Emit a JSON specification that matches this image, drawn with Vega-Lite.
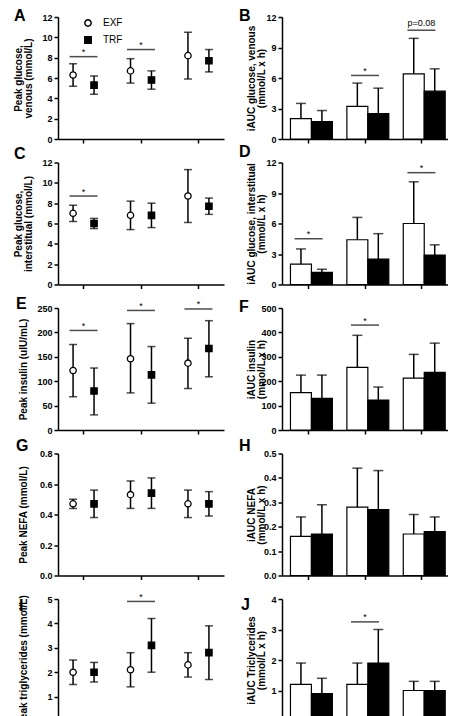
{
"$schema":"https://vega.github.io/schema/vega-lite/v6.json",
"padding":{"left":12,"top":8,"right":0,"bottom":0},
"datasets":{
"pts":[
{"p":"A","g":1,"s":"EXF","m":6.3,"lo":5.2,"hi":7.4},{"p":"A","g":1,"s":"TRF","m":5.3,"lo":4.4,"hi":6.2},
{"p":"A","g":2,"s":"EXF","m":6.7,"lo":5.5,"hi":7.9},{"p":"A","g":2,"s":"TRF","m":5.8,"lo":4.9,"hi":6.7},
{"p":"A","g":3,"s":"EXF","m":8.2,"lo":5.9,"hi":10.5},{"p":"A","g":3,"s":"TRF","m":7.7,"lo":6.6,"hi":8.8},
{"p":"C","g":1,"s":"EXF","m":7.0,"lo":6.2,"hi":7.8},{"p":"C","g":1,"s":"TRF","m":6.0,"lo":5.5,"hi":6.5},
{"p":"C","g":2,"s":"EXF","m":6.8,"lo":5.4,"hi":8.2},{"p":"C","g":2,"s":"TRF","m":6.8,"lo":5.6,"hi":8.0},
{"p":"C","g":3,"s":"EXF","m":8.7,"lo":6.1,"hi":11.3},{"p":"C","g":3,"s":"TRF","m":7.7,"lo":6.9,"hi":8.5},
{"p":"E","g":1,"s":"EXF","m":122,"lo":68,"hi":175},{"p":"E","g":1,"s":"TRF","m":80,"lo":31,"hi":127},
{"p":"E","g":2,"s":"EXF","m":146,"lo":76,"hi":218},{"p":"E","g":2,"s":"TRF","m":113,"lo":55,"hi":171},
{"p":"E","g":3,"s":"EXF","m":137,"lo":85,"hi":188},{"p":"E","g":3,"s":"TRF","m":167,"lo":109,"hi":224},
{"p":"G","g":1,"s":"EXF","m":0.47,"lo":0.44,"hi":0.50},{"p":"G","g":1,"s":"TRF","m":0.47,"lo":0.38,"hi":0.56},
{"p":"G","g":2,"s":"EXF","m":0.53,"lo":0.44,"hi":0.62},{"p":"G","g":2,"s":"TRF","m":0.54,"lo":0.44,"hi":0.64},
{"p":"G","g":3,"s":"EXF","m":0.47,"lo":0.38,"hi":0.56},{"p":"G","g":3,"s":"TRF","m":0.47,"lo":0.39,"hi":0.55},
{"p":"I","g":1,"s":"EXF","m":2.0,"lo":1.5,"hi":2.5},{"p":"I","g":1,"s":"TRF","m":2.0,"lo":1.6,"hi":2.4},
{"p":"I","g":2,"s":"EXF","m":2.1,"lo":1.4,"hi":2.8},{"p":"I","g":2,"s":"TRF","m":3.1,"lo":2.0,"hi":4.2},
{"p":"I","g":3,"s":"EXF","m":2.3,"lo":1.8,"hi":2.8},{"p":"I","g":3,"s":"TRF","m":2.8,"lo":1.7,"hi":3.9}
],
"bars":[
{"p":"B","g":1,"s":"EXF","m":2.0,"hi":3.5},{"p":"B","g":1,"s":"TRF","m":1.7,"hi":2.8},
{"p":"B","g":2,"s":"EXF","m":3.2,"hi":5.5},{"p":"B","g":2,"s":"TRF","m":2.5,"hi":5.0},
{"p":"B","g":3,"s":"EXF","m":6.4,"hi":9.9},{"p":"B","g":3,"s":"TRF","m":4.7,"hi":6.9},
{"p":"D","g":1,"s":"EXF","m":2.0,"hi":3.5},{"p":"D","g":1,"s":"TRF","m":1.2,"hi":1.5},
{"p":"D","g":2,"s":"EXF","m":4.4,"hi":6.6},{"p":"D","g":2,"s":"TRF","m":2.5,"hi":5.0},
{"p":"D","g":3,"s":"EXF","m":6.0,"hi":10.1},{"p":"D","g":3,"s":"TRF","m":2.9,"hi":3.9},
{"p":"F","g":1,"s":"EXF","m":153,"hi":225},{"p":"F","g":1,"s":"TRF","m":130,"hi":225},
{"p":"F","g":2,"s":"EXF","m":257,"hi":388},{"p":"F","g":2,"s":"TRF","m":123,"hi":176},
{"p":"F","g":3,"s":"EXF","m":213,"hi":310},{"p":"F","g":3,"s":"TRF","m":236,"hi":356},
{"p":"H","g":1,"s":"EXF","m":0.16,"hi":0.24},{"p":"H","g":1,"s":"TRF","m":0.17,"hi":0.29},
{"p":"H","g":2,"s":"EXF","m":0.28,"hi":0.44},{"p":"H","g":2,"s":"TRF","m":0.27,"hi":0.43},
{"p":"H","g":3,"s":"EXF","m":0.17,"hi":0.25},{"p":"H","g":3,"s":"TRF","m":0.18,"hi":0.24},
{"p":"J","g":1,"s":"EXF","m":1.2,"hi":1.9},{"p":"J","g":1,"s":"TRF","m":0.9,"hi":1.4},
{"p":"J","g":2,"s":"EXF","m":1.2,"hi":1.9},{"p":"J","g":2,"s":"TRF","m":1.9,"hi":3.0},
{"p":"J","g":3,"s":"EXF","m":1.0,"hi":1.3},{"p":"J","g":3,"s":"TRF","m":1.0,"hi":1.3}
],
"sig":[
{"p":"A","g":1,"y":8.1,"t":"*"},{"p":"A","g":2,"y":8.8,"t":"*"},
{"p":"B","g":2,"y":6.25,"t":"*"},{"p":"B","g":3,"y":10.7,"t":"p=0.08"},
{"p":"C","g":1,"y":8.7,"t":"*"},
{"p":"D","g":1,"y":4.5,"t":"*"},{"p":"D","g":3,"y":11.0,"t":"*"},
{"p":"E","g":1,"y":204,"t":"*"},{"p":"E","g":2,"y":245,"t":"*"},{"p":"E","g":3,"y":248,"t":"*"},
{"p":"F","g":2,"y":430,"t":"*"},
{"p":"I","g":2,"y":4.9,"t":"*"},
{"p":"J","g":2,"y":3.25,"t":"*"}
]
},
"columns":2,
"spacing":{"row":23.5,"column":58},
"bounds":"flush",
"resolve":{"scale":{"x":"independent","y":"independent","fill":"independent","shape":"independent"},"legend":{"fill":"independent","shape":"independent"}},
"concat":[
{"width":166,"height":122,"title":{"text":"A","dx":-44,"dy":15},"resolve":{"axis":{"y":"independent"}},
"layer":[
{"data":{"name":"pts"},"transform":[{"filter":"datum.p==='A'"}],"mark":{"type":"rule","color":"black","strokeWidth":1.5},
"encoding":{"x":{"field":"g","type":"ordinal","scale":{"paddingInner":0.27,"paddingOuter":0.08},"axis":{"labels":false,"title":null}},"xOffset":{"field":"s","type":"nominal","scale":{"domain":["EXF","TRF"],"paddingInner":0,"paddingOuter":0}},
"y":{"field":"lo","type":"quantitative","scale":{"domain":[0,12],"nice":false},"axis":{"values":[0,2,4,6,8,10,12],"title":["Peak glucose,","venous (mmol/L)"],"titleX":-40,"titleY":61}},"y2":{"field":"hi"}}},
{"data":{"name":"pts"},"transform":[{"filter":"datum.p==='A'"}],"mark":{"type":"tick","color":"black","thickness":1.5,"size":8},
"encoding":{"x":{"field":"g","type":"ordinal","scale":{"paddingInner":0.27,"paddingOuter":0.08},"axis":{"labels":false,"title":null}},"xOffset":{"field":"s","type":"nominal","scale":{"domain":["EXF","TRF"],"paddingInner":0,"paddingOuter":0}},
"y":{"field":"lo","type":"quantitative","scale":{"domain":[0,12],"nice":false},"axis":null}}},
{"data":{"name":"pts"},"transform":[{"filter":"datum.p==='A'"}],"mark":{"type":"tick","color":"black","thickness":1.5,"size":8},
"encoding":{"x":{"field":"g","type":"ordinal","scale":{"paddingInner":0.27,"paddingOuter":0.08},"axis":{"labels":false,"title":null}},"xOffset":{"field":"s","type":"nominal","scale":{"domain":["EXF","TRF"],"paddingInner":0,"paddingOuter":0}},
"y":{"field":"hi","type":"quantitative","scale":{"domain":[0,12],"nice":false},"axis":null}}},
{"data":{"name":"pts"},"transform":[{"filter":"datum.p==='A'"}],"mark":{"type":"point","filled":true,"strokeWidth":1.3,"size":40,"opacity":1},
"encoding":{"x":{"field":"g","type":"ordinal","scale":{"paddingInner":0.27,"paddingOuter":0.08},"axis":{"labels":false,"title":null}},"xOffset":{"field":"s","type":"nominal","scale":{"domain":["EXF","TRF"],"paddingInner":0,"paddingOuter":0}},
"y":{"field":"m","type":"quantitative","scale":{"domain":[0,12],"nice":false},"axis":null},"stroke":{"value":"black"},
"shape":{"field":"s","type":"nominal","scale":{"domain":["EXF","TRF"],"range":["circle","square"]},"legend":{"title":null,"orient":"none","legendX":25,"legendY":1,"direction":"vertical","labelFontSize":10,"labelFontWeight":"normal","labelColor":"black","labelFont":"Liberation Sans","symbolSize":40,"labelOffset":10,"rowPadding":3,"padding":0,"encode":{"symbols":{"update":{"fill":{"signal":"datum.value === 'TRF' ? 'black' : 'white'"},"stroke":{"signal":"'black'"},"strokeWidth":{"signal":"1.3"}}}}}},
"fill":{"field":"s","type":"nominal","scale":{"domain":["EXF","TRF"],"range":["white","black"]},"legend":null}}},
{"data":{"name":"sig"},"transform":[{"filter":"datum.p==='A'"}],"mark":{"type":"tick","color":"black","thickness":1.5,"size":28},
"encoding":{"x":{"field":"g","type":"ordinal","scale":{"paddingInner":0.27,"paddingOuter":0.08},"axis":{"labels":false,"title":null}},"y":{"field":"y","type":"quantitative","scale":{"domain":[0,12],"nice":false},"axis":null}}},
{"data":{"name":"sig"},"transform":[{"filter":"datum.p==='A'"}],"mark":{"type":"text","fontSize":9,"dy":-1.5,"baseline":"alphabetic","color":"black"},
"encoding":{"x":{"field":"g","type":"ordinal","scale":{"paddingInner":0.27,"paddingOuter":0.08},"axis":{"labels":false,"title":null}},"y":{"field":"y","type":"quantitative","scale":{"domain":[0,12],"nice":false},"axis":null},"text":{"field":"t"}}}
]},
{"width":166,"height":122,"title":{"text":"B","dx":-43,"dy":15},"resolve":{"axis":{"y":"independent"}},
"layer":[
{"data":{"name":"bars"},"transform":[{"filter":"datum.p==='B'"}],"mark":{"type":"bar","stroke":"black","strokeWidth":1.2},
"encoding":{"x":{"field":"g","type":"ordinal","scale":{"paddingInner":0.357,"paddingOuter":0.15},"axis":{"labels":false,"title":null}},"xOffset":{"field":"s","type":"nominal","scale":{"domain":["EXF","TRF"],"paddingInner":0,"paddingOuter":0}},
"y":{"field":"m","type":"quantitative","scale":{"domain":[0,12],"nice":false},"axis":{"values":[0,3,6,9,12],"title":["iAUC glucose, venous","(mmol/L x h)"],"titleX":-31,"titleY":61}},
"fill":{"field":"s","type":"nominal","scale":{"domain":["EXF","TRF"],"range":["white","black"]},"legend":null}}},
{"data":{"name":"bars"},"transform":[{"filter":"datum.p==='B'"}],"mark":{"type":"rule","color":"black","strokeWidth":1.5},
"encoding":{"x":{"field":"g","type":"ordinal","scale":{"paddingInner":0.357,"paddingOuter":0.15},"axis":{"labels":false,"title":null}},"xOffset":{"field":"s","type":"nominal","scale":{"domain":["EXF","TRF"],"paddingInner":0,"paddingOuter":0}},
"y":{"field":"m","type":"quantitative","scale":{"domain":[0,12],"nice":false},"axis":null},"y2":{"field":"hi"}}},
{"data":{"name":"bars"},"transform":[{"filter":"datum.p==='B'"}],"mark":{"type":"tick","color":"black","thickness":1.5,"size":10},
"encoding":{"x":{"field":"g","type":"ordinal","scale":{"paddingInner":0.357,"paddingOuter":0.15},"axis":{"labels":false,"title":null}},"xOffset":{"field":"s","type":"nominal","scale":{"domain":["EXF","TRF"],"paddingInner":0,"paddingOuter":0}},
"y":{"field":"hi","type":"quantitative","scale":{"domain":[0,12],"nice":false},"axis":null}}},
{"data":{"name":"sig"},"transform":[{"filter":"datum.p==='B'"}],"mark":{"type":"tick","color":"black","thickness":1.5,"size":28},
"encoding":{"x":{"field":"g","type":"ordinal","scale":{"paddingInner":0.357,"paddingOuter":0.15},"axis":{"labels":false,"title":null}},"y":{"field":"y","type":"quantitative","scale":{"domain":[0,12],"nice":false},"axis":null}}},
{"data":{"name":"sig"},"transform":[{"filter":"datum.p==='B' && datum.t==='*'"}],"mark":{"type":"text","fontSize":9,"dy":-1.5,"baseline":"alphabetic","color":"black"},
"encoding":{"x":{"field":"g","type":"ordinal","scale":{"paddingInner":0.357,"paddingOuter":0.15},"axis":{"labels":false,"title":null}},"y":{"field":"y","type":"quantitative","scale":{"domain":[0,12],"nice":false},"axis":null},"text":{"field":"t"}}},
{"data":{"name":"sig"},"transform":[{"filter":"datum.p==='B' && datum.t!=='*'"}],"mark":{"type":"text","fontSize":9,"dy":-4,"baseline":"alphabetic","color":"black"},
"encoding":{"x":{"field":"g","type":"ordinal","scale":{"paddingInner":0.357,"paddingOuter":0.15},"axis":{"labels":false,"title":null}},"y":{"field":"y","type":"quantitative","scale":{"domain":[0,12],"nice":false},"axis":null},"text":{"field":"t"}}}
]},
{"width":166,"height":122,"title":{"text":"C","dx":-44,"dy":7.5},"resolve":{"axis":{"y":"independent"}},
"layer":[
{"data":{"name":"pts"},"transform":[{"filter":"datum.p==='C'"}],"mark":{"type":"rule","color":"black","strokeWidth":1.5},
"encoding":{"x":{"field":"g","type":"ordinal","scale":{"paddingInner":0.27,"paddingOuter":0.08},"axis":{"labels":false,"title":null}},"xOffset":{"field":"s","type":"nominal","scale":{"domain":["EXF","TRF"],"paddingInner":0,"paddingOuter":0}},
"y":{"field":"lo","type":"quantitative","scale":{"domain":[0,12],"nice":false},"axis":{"values":[0,2,4,6,8,10,12],"title":["Peak glucose,","interstitual (mmol/L)"],"titleX":-40,"titleY":61}},"y2":{"field":"hi"}}},
{"data":{"name":"pts"},"transform":[{"filter":"datum.p==='C'"}],"mark":{"type":"tick","color":"black","thickness":1.5,"size":8},
"encoding":{"x":{"field":"g","type":"ordinal","scale":{"paddingInner":0.27,"paddingOuter":0.08},"axis":{"labels":false,"title":null}},"xOffset":{"field":"s","type":"nominal","scale":{"domain":["EXF","TRF"],"paddingInner":0,"paddingOuter":0}},
"y":{"field":"lo","type":"quantitative","scale":{"domain":[0,12],"nice":false},"axis":null}}},
{"data":{"name":"pts"},"transform":[{"filter":"datum.p==='C'"}],"mark":{"type":"tick","color":"black","thickness":1.5,"size":8},
"encoding":{"x":{"field":"g","type":"ordinal","scale":{"paddingInner":0.27,"paddingOuter":0.08},"axis":{"labels":false,"title":null}},"xOffset":{"field":"s","type":"nominal","scale":{"domain":["EXF","TRF"],"paddingInner":0,"paddingOuter":0}},
"y":{"field":"hi","type":"quantitative","scale":{"domain":[0,12],"nice":false},"axis":null}}},
{"data":{"name":"pts"},"transform":[{"filter":"datum.p==='C'"}],"mark":{"type":"point","filled":true,"strokeWidth":1.3,"size":40,"opacity":1},
"encoding":{"x":{"field":"g","type":"ordinal","scale":{"paddingInner":0.27,"paddingOuter":0.08},"axis":{"labels":false,"title":null}},"xOffset":{"field":"s","type":"nominal","scale":{"domain":["EXF","TRF"],"paddingInner":0,"paddingOuter":0}},
"y":{"field":"m","type":"quantitative","scale":{"domain":[0,12],"nice":false},"axis":null},"stroke":{"value":"black"},
"shape":{"field":"s","type":"nominal","scale":{"domain":["EXF","TRF"],"range":["circle","square"]},"legend":null},
"fill":{"field":"s","type":"nominal","scale":{"domain":["EXF","TRF"],"range":["white","black"]},"legend":null}}},
{"data":{"name":"sig"},"transform":[{"filter":"datum.p==='C'"}],"mark":{"type":"tick","color":"black","thickness":1.5,"size":28},
"encoding":{"x":{"field":"g","type":"ordinal","scale":{"paddingInner":0.27,"paddingOuter":0.08},"axis":{"labels":false,"title":null}},"y":{"field":"y","type":"quantitative","scale":{"domain":[0,12],"nice":false},"axis":null}}},
{"data":{"name":"sig"},"transform":[{"filter":"datum.p==='C'"}],"mark":{"type":"text","fontSize":9,"dy":-1.5,"baseline":"alphabetic","color":"black"},
"encoding":{"x":{"field":"g","type":"ordinal","scale":{"paddingInner":0.27,"paddingOuter":0.08},"axis":{"labels":false,"title":null}},"y":{"field":"y","type":"quantitative","scale":{"domain":[0,12],"nice":false},"axis":null},"text":{"field":"t"}}}
]},
{"width":166,"height":122,"title":{"text":"D","dx":-43,"dy":5.5},"resolve":{"axis":{"y":"independent"}},
"layer":[
{"data":{"name":"bars"},"transform":[{"filter":"datum.p==='D'"}],"mark":{"type":"bar","stroke":"black","strokeWidth":1.2},
"encoding":{"x":{"field":"g","type":"ordinal","scale":{"paddingInner":0.357,"paddingOuter":0.15},"axis":{"labels":false,"title":null}},"xOffset":{"field":"s","type":"nominal","scale":{"domain":["EXF","TRF"],"paddingInner":0,"paddingOuter":0}},
"y":{"field":"m","type":"quantitative","scale":{"domain":[0,12],"nice":false},"axis":{"values":[0,3,6,9,12],"title":["iAUC glucose, interstitual","(mmol/L x h)"],"titleX":-31,"titleY":61}},
"fill":{"field":"s","type":"nominal","scale":{"domain":["EXF","TRF"],"range":["white","black"]},"legend":null}}},
{"data":{"name":"bars"},"transform":[{"filter":"datum.p==='D'"}],"mark":{"type":"rule","color":"black","strokeWidth":1.5},
"encoding":{"x":{"field":"g","type":"ordinal","scale":{"paddingInner":0.357,"paddingOuter":0.15},"axis":{"labels":false,"title":null}},"xOffset":{"field":"s","type":"nominal","scale":{"domain":["EXF","TRF"],"paddingInner":0,"paddingOuter":0}},
"y":{"field":"m","type":"quantitative","scale":{"domain":[0,12],"nice":false},"axis":null},"y2":{"field":"hi"}}},
{"data":{"name":"bars"},"transform":[{"filter":"datum.p==='D'"}],"mark":{"type":"tick","color":"black","thickness":1.5,"size":10},
"encoding":{"x":{"field":"g","type":"ordinal","scale":{"paddingInner":0.357,"paddingOuter":0.15},"axis":{"labels":false,"title":null}},"xOffset":{"field":"s","type":"nominal","scale":{"domain":["EXF","TRF"],"paddingInner":0,"paddingOuter":0}},
"y":{"field":"hi","type":"quantitative","scale":{"domain":[0,12],"nice":false},"axis":null}}},
{"data":{"name":"sig"},"transform":[{"filter":"datum.p==='D'"}],"mark":{"type":"tick","color":"black","thickness":1.5,"size":28},
"encoding":{"x":{"field":"g","type":"ordinal","scale":{"paddingInner":0.357,"paddingOuter":0.15},"axis":{"labels":false,"title":null}},"y":{"field":"y","type":"quantitative","scale":{"domain":[0,12],"nice":false},"axis":null}}},
{"data":{"name":"sig"},"transform":[{"filter":"datum.p==='D'"}],"mark":{"type":"text","fontSize":9,"dy":-1.5,"baseline":"alphabetic","color":"black"},
"encoding":{"x":{"field":"g","type":"ordinal","scale":{"paddingInner":0.357,"paddingOuter":0.15},"axis":{"labels":false,"title":null}},"y":{"field":"y","type":"quantitative","scale":{"domain":[0,12],"nice":false},"axis":null},"text":{"field":"t"}}}
]},
{"width":166,"height":122,"title":{"text":"E","dx":-42,"dy":16},"resolve":{"axis":{"y":"independent"}},
"layer":[
{"data":{"name":"pts"},"transform":[{"filter":"datum.p==='E'"}],"mark":{"type":"rule","color":"black","strokeWidth":1.5},
"encoding":{"x":{"field":"g","type":"ordinal","scale":{"paddingInner":0.27,"paddingOuter":0.08},"axis":{"labels":false,"title":null}},"xOffset":{"field":"s","type":"nominal","scale":{"domain":["EXF","TRF"],"paddingInner":0,"paddingOuter":0}},
"y":{"field":"lo","type":"quantitative","scale":{"domain":[0,250],"nice":false},"axis":{"values":[0,50,100,150,200,250],"title":"Peak insulin (uIU/mL)","titleX":-34.5,"titleY":61}},"y2":{"field":"hi"}}},
{"data":{"name":"pts"},"transform":[{"filter":"datum.p==='E'"}],"mark":{"type":"tick","color":"black","thickness":1.5,"size":8},
"encoding":{"x":{"field":"g","type":"ordinal","scale":{"paddingInner":0.27,"paddingOuter":0.08},"axis":{"labels":false,"title":null}},"xOffset":{"field":"s","type":"nominal","scale":{"domain":["EXF","TRF"],"paddingInner":0,"paddingOuter":0}},
"y":{"field":"lo","type":"quantitative","scale":{"domain":[0,250],"nice":false},"axis":null}}},
{"data":{"name":"pts"},"transform":[{"filter":"datum.p==='E'"}],"mark":{"type":"tick","color":"black","thickness":1.5,"size":8},
"encoding":{"x":{"field":"g","type":"ordinal","scale":{"paddingInner":0.27,"paddingOuter":0.08},"axis":{"labels":false,"title":null}},"xOffset":{"field":"s","type":"nominal","scale":{"domain":["EXF","TRF"],"paddingInner":0,"paddingOuter":0}},
"y":{"field":"hi","type":"quantitative","scale":{"domain":[0,250],"nice":false},"axis":null}}},
{"data":{"name":"pts"},"transform":[{"filter":"datum.p==='E'"}],"mark":{"type":"point","filled":true,"strokeWidth":1.3,"size":40,"opacity":1},
"encoding":{"x":{"field":"g","type":"ordinal","scale":{"paddingInner":0.27,"paddingOuter":0.08},"axis":{"labels":false,"title":null}},"xOffset":{"field":"s","type":"nominal","scale":{"domain":["EXF","TRF"],"paddingInner":0,"paddingOuter":0}},
"y":{"field":"m","type":"quantitative","scale":{"domain":[0,250],"nice":false},"axis":null},"stroke":{"value":"black"},
"shape":{"field":"s","type":"nominal","scale":{"domain":["EXF","TRF"],"range":["circle","square"]},"legend":null},
"fill":{"field":"s","type":"nominal","scale":{"domain":["EXF","TRF"],"range":["white","black"]},"legend":null}}},
{"data":{"name":"sig"},"transform":[{"filter":"datum.p==='E'"}],"mark":{"type":"tick","color":"black","thickness":1.5,"size":28},
"encoding":{"x":{"field":"g","type":"ordinal","scale":{"paddingInner":0.27,"paddingOuter":0.08},"axis":{"labels":false,"title":null}},"y":{"field":"y","type":"quantitative","scale":{"domain":[0,250],"nice":false},"axis":null}}},
{"data":{"name":"sig"},"transform":[{"filter":"datum.p==='E'"}],"mark":{"type":"text","fontSize":9,"dy":-1.5,"baseline":"alphabetic","color":"black"},
"encoding":{"x":{"field":"g","type":"ordinal","scale":{"paddingInner":0.27,"paddingOuter":0.08},"axis":{"labels":false,"title":null}},"y":{"field":"y","type":"quantitative","scale":{"domain":[0,250],"nice":false},"axis":null},"text":{"field":"t"}}}
]},
{"width":166,"height":122,"title":{"text":"F","dx":-43,"dy":15},"resolve":{"axis":{"y":"independent"}},
"layer":[
{"data":{"name":"bars"},"transform":[{"filter":"datum.p==='F'"}],"mark":{"type":"bar","stroke":"black","strokeWidth":1.2},
"encoding":{"x":{"field":"g","type":"ordinal","scale":{"paddingInner":0.357,"paddingOuter":0.15},"axis":{"labels":false,"title":null}},"xOffset":{"field":"s","type":"nominal","scale":{"domain":["EXF","TRF"],"paddingInner":0,"paddingOuter":0}},
"y":{"field":"m","type":"quantitative","scale":{"domain":[0,500],"nice":false},"axis":{"values":[0,100,200,300,400,500],"title":["iAUC insulin","(mmol/L x h)"],"titleX":-31,"titleY":61}},
"fill":{"field":"s","type":"nominal","scale":{"domain":["EXF","TRF"],"range":["white","black"]},"legend":null}}},
{"data":{"name":"bars"},"transform":[{"filter":"datum.p==='F'"}],"mark":{"type":"rule","color":"black","strokeWidth":1.5},
"encoding":{"x":{"field":"g","type":"ordinal","scale":{"paddingInner":0.357,"paddingOuter":0.15},"axis":{"labels":false,"title":null}},"xOffset":{"field":"s","type":"nominal","scale":{"domain":["EXF","TRF"],"paddingInner":0,"paddingOuter":0}},
"y":{"field":"m","type":"quantitative","scale":{"domain":[0,500],"nice":false},"axis":null},"y2":{"field":"hi"}}},
{"data":{"name":"bars"},"transform":[{"filter":"datum.p==='F'"}],"mark":{"type":"tick","color":"black","thickness":1.5,"size":10},
"encoding":{"x":{"field":"g","type":"ordinal","scale":{"paddingInner":0.357,"paddingOuter":0.15},"axis":{"labels":false,"title":null}},"xOffset":{"field":"s","type":"nominal","scale":{"domain":["EXF","TRF"],"paddingInner":0,"paddingOuter":0}},
"y":{"field":"hi","type":"quantitative","scale":{"domain":[0,500],"nice":false},"axis":null}}},
{"data":{"name":"sig"},"transform":[{"filter":"datum.p==='F'"}],"mark":{"type":"tick","color":"black","thickness":1.5,"size":28},
"encoding":{"x":{"field":"g","type":"ordinal","scale":{"paddingInner":0.357,"paddingOuter":0.15},"axis":{"labels":false,"title":null}},"y":{"field":"y","type":"quantitative","scale":{"domain":[0,500],"nice":false},"axis":null}}},
{"data":{"name":"sig"},"transform":[{"filter":"datum.p==='F'"}],"mark":{"type":"text","fontSize":9,"dy":-1.5,"baseline":"alphabetic","color":"black"},
"encoding":{"x":{"field":"g","type":"ordinal","scale":{"paddingInner":0.357,"paddingOuter":0.15},"axis":{"labels":false,"title":null}},"y":{"field":"y","type":"quantitative","scale":{"domain":[0,500],"nice":false},"axis":null},"text":{"field":"t"}}}
]},
{"width":166,"height":122,"title":{"text":"G","dx":-42,"dy":8.5},"resolve":{"axis":{"y":"independent"}},
"layer":[
{"data":{"name":"pts"},"transform":[{"filter":"datum.p==='G'"}],"mark":{"type":"rule","color":"black","strokeWidth":1.5},
"encoding":{"x":{"field":"g","type":"ordinal","scale":{"paddingInner":0.27,"paddingOuter":0.08},"axis":{"labels":false,"title":null}},"xOffset":{"field":"s","type":"nominal","scale":{"domain":["EXF","TRF"],"paddingInner":0,"paddingOuter":0}},
"y":{"field":"lo","type":"quantitative","scale":{"domain":[0,0.8],"nice":false},"axis":{"values":[0,0.2,0.4,0.6,0.8],"format":".1f","title":"Peak NEFA (mmol/L)","titleX":-34.5,"titleY":61}},"y2":{"field":"hi"}}},
{"data":{"name":"pts"},"transform":[{"filter":"datum.p==='G'"}],"mark":{"type":"tick","color":"black","thickness":1.5,"size":8},
"encoding":{"x":{"field":"g","type":"ordinal","scale":{"paddingInner":0.27,"paddingOuter":0.08},"axis":{"labels":false,"title":null}},"xOffset":{"field":"s","type":"nominal","scale":{"domain":["EXF","TRF"],"paddingInner":0,"paddingOuter":0}},
"y":{"field":"lo","type":"quantitative","scale":{"domain":[0,0.8],"nice":false},"axis":null}}},
{"data":{"name":"pts"},"transform":[{"filter":"datum.p==='G'"}],"mark":{"type":"tick","color":"black","thickness":1.5,"size":8},
"encoding":{"x":{"field":"g","type":"ordinal","scale":{"paddingInner":0.27,"paddingOuter":0.08},"axis":{"labels":false,"title":null}},"xOffset":{"field":"s","type":"nominal","scale":{"domain":["EXF","TRF"],"paddingInner":0,"paddingOuter":0}},
"y":{"field":"hi","type":"quantitative","scale":{"domain":[0,0.8],"nice":false},"axis":null}}},
{"data":{"name":"pts"},"transform":[{"filter":"datum.p==='G'"}],"mark":{"type":"point","filled":true,"strokeWidth":1.3,"size":40,"opacity":1},
"encoding":{"x":{"field":"g","type":"ordinal","scale":{"paddingInner":0.27,"paddingOuter":0.08},"axis":{"labels":false,"title":null}},"xOffset":{"field":"s","type":"nominal","scale":{"domain":["EXF","TRF"],"paddingInner":0,"paddingOuter":0}},
"y":{"field":"m","type":"quantitative","scale":{"domain":[0,0.8],"nice":false},"axis":null},"stroke":{"value":"black"},
"shape":{"field":"s","type":"nominal","scale":{"domain":["EXF","TRF"],"range":["circle","square"]},"legend":null},
"fill":{"field":"s","type":"nominal","scale":{"domain":["EXF","TRF"],"range":["white","black"]},"legend":null}}}
]},
{"width":166,"height":122,"title":{"text":"H","dx":-43,"dy":8.5},"resolve":{"axis":{"y":"independent"}},
"layer":[
{"data":{"name":"bars"},"transform":[{"filter":"datum.p==='H'"}],"mark":{"type":"bar","stroke":"black","strokeWidth":1.2},
"encoding":{"x":{"field":"g","type":"ordinal","scale":{"paddingInner":0.357,"paddingOuter":0.15},"axis":{"labels":false,"title":null}},"xOffset":{"field":"s","type":"nominal","scale":{"domain":["EXF","TRF"],"paddingInner":0,"paddingOuter":0}},
"y":{"field":"m","type":"quantitative","scale":{"domain":[0,0.5],"nice":false},"axis":{"values":[0,0.1,0.2,0.3,0.4,0.5],"format":".1f","title":["iAUC NEFA","(mmol/L x h)"],"titleX":-31,"titleY":61}},
"fill":{"field":"s","type":"nominal","scale":{"domain":["EXF","TRF"],"range":["white","black"]},"legend":null}}},
{"data":{"name":"bars"},"transform":[{"filter":"datum.p==='H'"}],"mark":{"type":"rule","color":"black","strokeWidth":1.5},
"encoding":{"x":{"field":"g","type":"ordinal","scale":{"paddingInner":0.357,"paddingOuter":0.15},"axis":{"labels":false,"title":null}},"xOffset":{"field":"s","type":"nominal","scale":{"domain":["EXF","TRF"],"paddingInner":0,"paddingOuter":0}},
"y":{"field":"m","type":"quantitative","scale":{"domain":[0,0.5],"nice":false},"axis":null},"y2":{"field":"hi"}}},
{"data":{"name":"bars"},"transform":[{"filter":"datum.p==='H'"}],"mark":{"type":"tick","color":"black","thickness":1.5,"size":10},
"encoding":{"x":{"field":"g","type":"ordinal","scale":{"paddingInner":0.357,"paddingOuter":0.15},"axis":{"labels":false,"title":null}},"xOffset":{"field":"s","type":"nominal","scale":{"domain":["EXF","TRF"],"paddingInner":0,"paddingOuter":0}},
"y":{"field":"hi","type":"quantitative","scale":{"domain":[0,0.5],"nice":false},"axis":null}}}
]},
{"width":166,"height":122,"title":{"text":"I","dx":-39,"dy":25},"resolve":{"axis":{"y":"independent"}},
"layer":[
{"data":{"name":"pts"},"transform":[{"filter":"datum.p==='I'"}],"mark":{"type":"rule","color":"black","strokeWidth":1.5},
"encoding":{"x":{"field":"g","type":"ordinal","scale":{"paddingInner":0.27,"paddingOuter":0.08},"axis":{"labels":false,"title":null}},"xOffset":{"field":"s","type":"nominal","scale":{"domain":["EXF","TRF"],"paddingInner":0,"paddingOuter":0}},
"y":{"field":"lo","type":"quantitative","scale":{"domain":[0,5],"nice":false},"axis":{"values":[0,1,2,3,4,5],"title":"Peak triglycerides (mmol/L)","titleX":-34.5,"titleY":61}},"y2":{"field":"hi"}}},
{"data":{"name":"pts"},"transform":[{"filter":"datum.p==='I'"}],"mark":{"type":"tick","color":"black","thickness":1.5,"size":8},
"encoding":{"x":{"field":"g","type":"ordinal","scale":{"paddingInner":0.27,"paddingOuter":0.08},"axis":{"labels":false,"title":null}},"xOffset":{"field":"s","type":"nominal","scale":{"domain":["EXF","TRF"],"paddingInner":0,"paddingOuter":0}},
"y":{"field":"lo","type":"quantitative","scale":{"domain":[0,5],"nice":false},"axis":null}}},
{"data":{"name":"pts"},"transform":[{"filter":"datum.p==='I'"}],"mark":{"type":"tick","color":"black","thickness":1.5,"size":8},
"encoding":{"x":{"field":"g","type":"ordinal","scale":{"paddingInner":0.27,"paddingOuter":0.08},"axis":{"labels":false,"title":null}},"xOffset":{"field":"s","type":"nominal","scale":{"domain":["EXF","TRF"],"paddingInner":0,"paddingOuter":0}},
"y":{"field":"hi","type":"quantitative","scale":{"domain":[0,5],"nice":false},"axis":null}}},
{"data":{"name":"pts"},"transform":[{"filter":"datum.p==='I'"}],"mark":{"type":"point","filled":true,"strokeWidth":1.3,"size":40,"opacity":1},
"encoding":{"x":{"field":"g","type":"ordinal","scale":{"paddingInner":0.27,"paddingOuter":0.08},"axis":{"labels":false,"title":null}},"xOffset":{"field":"s","type":"nominal","scale":{"domain":["EXF","TRF"],"paddingInner":0,"paddingOuter":0}},
"y":{"field":"m","type":"quantitative","scale":{"domain":[0,5],"nice":false},"axis":null},"stroke":{"value":"black"},
"shape":{"field":"s","type":"nominal","scale":{"domain":["EXF","TRF"],"range":["circle","square"]},"legend":null},
"fill":{"field":"s","type":"nominal","scale":{"domain":["EXF","TRF"],"range":["white","black"]},"legend":null}}},
{"data":{"name":"sig"},"transform":[{"filter":"datum.p==='I'"}],"mark":{"type":"tick","color":"black","thickness":1.5,"size":28},
"encoding":{"x":{"field":"g","type":"ordinal","scale":{"paddingInner":0.27,"paddingOuter":0.08},"axis":{"labels":false,"title":null}},"y":{"field":"y","type":"quantitative","scale":{"domain":[0,5],"nice":false},"axis":null}}},
{"data":{"name":"sig"},"transform":[{"filter":"datum.p==='I'"}],"mark":{"type":"text","fontSize":9,"dy":-1.5,"baseline":"alphabetic","color":"black"},
"encoding":{"x":{"field":"g","type":"ordinal","scale":{"paddingInner":0.27,"paddingOuter":0.08},"axis":{"labels":false,"title":null}},"y":{"field":"y","type":"quantitative","scale":{"domain":[0,5],"nice":false},"axis":null},"text":{"field":"t"}}}
]},
{"width":166,"height":122,"title":{"text":"J","dx":-41,"dy":22},"resolve":{"axis":{"y":"independent"}},
"layer":[
{"data":{"name":"bars"},"transform":[{"filter":"datum.p==='J'"}],"mark":{"type":"bar","stroke":"black","strokeWidth":1.2},
"encoding":{"x":{"field":"g","type":"ordinal","scale":{"paddingInner":0.357,"paddingOuter":0.15},"axis":{"labels":false,"title":null}},"xOffset":{"field":"s","type":"nominal","scale":{"domain":["EXF","TRF"],"paddingInner":0,"paddingOuter":0}},
"y":{"field":"m","type":"quantitative","scale":{"domain":[0,4],"nice":false},"axis":{"values":[0,1,2,3,4],"title":["iAUC Triclycerides","(mmol/L x h)"],"titleX":-31,"titleY":61}},
"fill":{"field":"s","type":"nominal","scale":{"domain":["EXF","TRF"],"range":["white","black"]},"legend":null}}},
{"data":{"name":"bars"},"transform":[{"filter":"datum.p==='J'"}],"mark":{"type":"rule","color":"black","strokeWidth":1.5},
"encoding":{"x":{"field":"g","type":"ordinal","scale":{"paddingInner":0.357,"paddingOuter":0.15},"axis":{"labels":false,"title":null}},"xOffset":{"field":"s","type":"nominal","scale":{"domain":["EXF","TRF"],"paddingInner":0,"paddingOuter":0}},
"y":{"field":"m","type":"quantitative","scale":{"domain":[0,4],"nice":false},"axis":null},"y2":{"field":"hi"}}},
{"data":{"name":"bars"},"transform":[{"filter":"datum.p==='J'"}],"mark":{"type":"tick","color":"black","thickness":1.5,"size":10},
"encoding":{"x":{"field":"g","type":"ordinal","scale":{"paddingInner":0.357,"paddingOuter":0.15},"axis":{"labels":false,"title":null}},"xOffset":{"field":"s","type":"nominal","scale":{"domain":["EXF","TRF"],"paddingInner":0,"paddingOuter":0}},
"y":{"field":"hi","type":"quantitative","scale":{"domain":[0,4],"nice":false},"axis":null}}},
{"data":{"name":"sig"},"transform":[{"filter":"datum.p==='J'"}],"mark":{"type":"tick","color":"black","thickness":1.5,"size":28},
"encoding":{"x":{"field":"g","type":"ordinal","scale":{"paddingInner":0.357,"paddingOuter":0.15},"axis":{"labels":false,"title":null}},"y":{"field":"y","type":"quantitative","scale":{"domain":[0,4],"nice":false},"axis":null}}},
{"data":{"name":"sig"},"transform":[{"filter":"datum.p==='J'"}],"mark":{"type":"text","fontSize":9,"dy":-1.5,"baseline":"alphabetic","color":"black"},
"encoding":{"x":{"field":"g","type":"ordinal","scale":{"paddingInner":0.357,"paddingOuter":0.15},"axis":{"labels":false,"title":null}},"y":{"field":"y","type":"quantitative","scale":{"domain":[0,4],"nice":false},"axis":null},"text":{"field":"t"}}}
]}
],
"config":{
"font":"Liberation Sans",
"view":{"stroke":null},
"background":"white",
"title":{"anchor":"start","frame":"group","fontSize":16,"fontWeight":"bold","color":"black","font":"Liberation Sans","offset":0,"baseline":"alphabetic"},
"axis":{"domainColor":"black","domainWidth":1.5,"tickColor":"black","tickWidth":1.5,"tickSize":4,"labelFont":"Liberation Sans","labelFontSize":9,"labelFontWeight":"bold","labelColor":"black","labelPadding":2,"titleFont":"Liberation Sans","titleFontSize":10,"titleFontWeight":"bold","titleColor":"black","grid":false,"titleLineHeight":10},
"axisY":{"titleBaseline":"middle","titleAlign":"center","titleAngle":-90}
}
}
